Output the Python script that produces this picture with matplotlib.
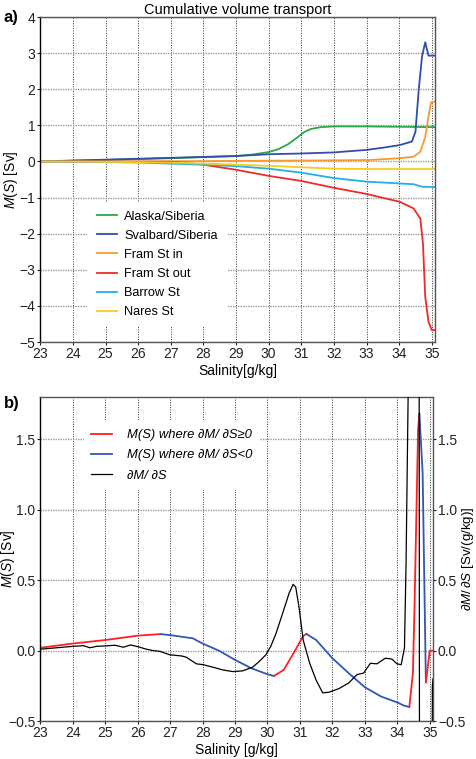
import numpy as np
import matplotlib
matplotlib.use("Agg")
import matplotlib.pyplot as plt

plt.rcParams['font.family'] = ['Liberation Sans', 'DejaVu Sans']
plt.rcParams['mathtext.fontset'] = 'custom'
plt.rcParams['mathtext.rm'] = 'Liberation Sans'
plt.rcParams['mathtext.it'] = 'Liberation Sans:italic'
plt.rcParams['axes.unicode_minus'] = True

# ---------------- Panel a data ----------------
alaska_x = [23, 25, 27, 28, 29, 29.5, 30, 30.3, 30.6, 30.9, 31.1, 31.3, 31.6, 32, 33, 34, 35.1]
alaska_y = [0, 0.04, 0.09, 0.12, 0.15, 0.19, 0.26, 0.34, 0.48, 0.68, 0.82, 0.9, 0.95, 0.97, 0.97, 0.96, 0.95]

svalbard_x = [23, 25, 27, 29, 30, 31, 32, 33, 33.5, 34, 34.39, 34.5, 34.6, 34.7, 34.8, 34.9, 35.1]
svalbard_y = [0, 0.05, 0.1, 0.15, 0.2, 0.22, 0.25, 0.32, 0.38, 0.45, 0.55, 0.82, 1.98, 2.9, 3.3, 2.93, 2.93]

framin_x = [23, 26, 28, 30, 32, 33.1, 34.03, 34.44, 34.65, 34.8, 34.9, 34.98, 35.1]
framin_y = [0, 0, 0.01, 0.02, 0.03, 0.04, 0.09, 0.13, 0.27, 0.68, 1.24, 1.64, 1.66]

framout_x = [23, 27, 27.5, 28, 29, 30, 31, 32, 33, 34.03, 34.44, 34.65, 34.73, 34.8, 34.9, 35.0, 35.1]
framout_y = [0, -0.01, -0.04, -0.09, -0.23, -0.4, -0.54, -0.73, -0.9, -1.12, -1.3, -1.58, -2.27, -3.75, -4.44, -4.67, -4.67]

barrow_x = [23, 25, 26, 27, 28, 29, 30, 31, 32, 33, 34.03, 34.44, 34.7, 35.1]
barrow_y = [0, -0.02, -0.03, -0.06, -0.09, -0.13, -0.2, -0.31, -0.46, -0.56, -0.61, -0.63, -0.7, -0.71]

nares_x = [23, 25, 27, 28, 29, 30, 31, 32, 33, 34, 35.1]
nares_y = [0, -0.01, -0.03, -0.06, -0.09, -0.12, -0.16, -0.2, -0.21, -0.21, -0.21]

series_a = [
    ("Alaska/Siberia", alaska_x, alaska_y, "#2aa84a"),
    ("Svalbard/Siberia", svalbard_x, svalbard_y, "#2f4fa8"),
    ("Fram St in", framin_x, framin_y, "#f79a2e"),
    ("Fram St out", framout_x, framout_y, "#ee2a2a"),
    ("Barrow St", barrow_x, barrow_y, "#1fb0e6"),
    ("Nares St", nares_x, nares_y, "#f7cc1c"),
]

# ---------------- Panel b data ----------------
ms_x = [23.0, 24.0, 25.0, 26.0, 26.7, 27.0, 27.7, 28.0, 28.5, 29.0, 29.5, 30.0, 30.2,
        30.5, 30.8, 31.1, 31.2, 31.5, 32.0, 32.5, 33.0, 33.5, 34.0, 34.2, 34.37,
        34.48, 34.53, 34.64, 34.68, 34.78, 34.88, 35.0, 35.1]
ms_y = [0.02, 0.05, 0.075, 0.106, 0.117, 0.11, 0.087, 0.05, 0.0, -0.066, -0.125, -0.168, -0.18,
        -0.137, -0.02, 0.104, 0.118, 0.075, -0.054, -0.16, -0.26, -0.326, -0.368, -0.39, -0.40,
        -0.16, 0.31, 1.57, 1.68, 1.26, -0.225, 0.0, 0.0]

dm_x = [23.0, 23.5, 24.0, 24.33, 24.53, 24.73, 25.0, 25.3, 25.56, 25.78, 26.0, 26.27, 26.48,
        26.68, 26.99, 27.35, 27.5, 27.81, 28.02, 28.32, 28.62, 28.93, 29.23, 29.54, 29.74,
        29.95, 30.1, 30.26, 30.46, 30.67, 30.79, 30.87, 30.97, 31.1, 31.3, 31.5, 31.7, 31.9,
        32.2, 32.5, 32.76, 32.96, 33.17, 33.37, 33.63, 33.83, 33.99, 34.12, 34.22, 34.27,
        34.32, 34.4, 34.67, 34.69, 35.04, 35.08, 35.1]
dm_y = [0.01, 0.02, 0.03, 0.035, 0.02, 0.03, 0.033, 0.038, 0.024, 0.04, 0.028, 0.01, 0.0,
        -0.005, -0.03, -0.038, -0.047, -0.094, -0.1, -0.118, -0.137, -0.149, -0.144, -0.118, -0.078,
        -0.03, 0.03, 0.12, 0.26, 0.41, 0.47, 0.45, 0.31, 0.075, -0.09, -0.21, -0.30, -0.295,
        -0.27, -0.23, -0.17, -0.16, -0.09, -0.094, -0.054, -0.06, -0.094, -0.10, 0.02, 0.63,
        1.57, 3.0, 3.0, -3.0, -3.0, -0.25, -0.2]

xticks = list(range(23, 36))
b_ticks = [-0.5, 0.0, 0.5, 1.0, 1.5]
b_ticklabels = ['−0.5', '0.0', '0.5', '1.0', '1.5']

fig = plt.figure(figsize=(4.77, 7.59), dpi=100)

grid_v = dict(color='#333333', linestyle=(0, (1, 1.5)), linewidth=0.7)
grid_h = dict(color='#9a9a9a', linestyle=(0, (1, 0.8)), linewidth=1.0)

def style_axes(ax):
    for s in ['top', 'right', 'bottom']:
        ax.spines[s].set_color('#555555')
    ax.spines['left'].set_color('black')
    for s in ax.spines.values():
        s.set_linewidth(1.0)
    ax.tick_params(direction='out', length=2.5, width=0.8, pad=1, labelsize=10, colors='#222222')
    ax.set_axisbelow(True)
    ax.xaxis.grid(True, **grid_v)
    ax.yaxis.grid(True, **grid_h)

# ---------- Panel a ----------
ax1 = fig.add_axes([0.0845, 0.5494, 0.8275, 0.4282])
for name, xs, ys, c in series_a:
    ax1.plot(xs, ys, color=c, lw=1.3, label=name)
ax1.set_xlim(23, 35.1)
ax1.set_ylim(-5, 4)
ax1.set_xticks(xticks)
ax1.set_yticks(range(-5, 5))
style_axes(ax1)
ax1.set_title("Cumulative volume transport", fontsize=10.5, pad=1)
ax1.set_xlabel("Salinity[g/kg]", fontsize=10, labelpad=2)
ax1.set_ylabel(r"$M(S)$ [Sv]", fontsize=10)
ax1.yaxis.set_label_coords(-0.0755, 0.5)
ax1.yaxis.label.set_va('center')
leg1 = ax1.legend(loc='lower left', bbox_to_anchor=(0.12, 0.045), frameon=True,
                  facecolor='white', edgecolor='none', framealpha=1, borderaxespad=0,
                  fontsize=9.2, handlelength=1.6, handletextpad=0.55, labelspacing=0.56,
                  borderpad=0.7)
fig.text(0.008, 0.977, "a)", fontsize=12, fontweight='bold', va='center')

# ---------- Panel b ----------
ax2 = fig.add_axes([0.0845, 0.05, 0.8233, 0.427])
ms_x_arr = np.array(ms_x)
ms_y_arr = np.array(ms_y)
d = np.diff(ms_y_arr)
i = 0
first_red = True
first_blue = True
while i < len(d):
    pos = d[i] >= 0
    j = i
    while j + 1 < len(d) and (d[j + 1] >= 0) == pos:
        j += 1
    col = '#ff2020' if pos else '#3355b5'
    lab = None
    if pos and first_red:
        lab = "M(S) where ∂M/ ∂S≥0"
        first_red = False
    elif (not pos) and first_blue:
        lab = "M(S) where ∂M/ ∂S<0"
        first_blue = False
    ax2.plot(ms_x_arr[i:j + 2], ms_y_arr[i:j + 2], color=col, lw=1.3, label=lab)
    i = j + 1

ax2.set_xlim(23, 35.1)
ax2.set_ylim(-0.5, 1.8)
ax2.set_xticks(xticks)
ax2.set_yticks(b_ticks)
ax2.set_yticklabels(b_ticklabels)
style_axes(ax2)
ax2.set_xlabel("Salinity [g/kg]", fontsize=10, labelpad=2)
ax2.set_ylabel(r"$M(S)$ [Sv]", fontsize=10)
ax2.yaxis.set_label_coords(-0.083, 0.5)
ax2.yaxis.label.set_va('center')

ax3 = ax2.twinx()
ax3.plot(dm_x, dm_y, color='black', lw=0.9, label="∂M/ ∂S")
ax3.set_ylim(-0.5, 1.8)
ax3.set_yticks(b_ticks)
ax3.set_yticklabels(b_ticklabels)
ax3.tick_params(direction='out', length=2.5, width=0.8, pad=1, labelsize=10, colors='#222222')
for s in ax3.spines.values():
    s.set_visible(False)
ax3.set_ylabel(r"$\partial M/\,\partial S$ [Sv/(g/kg)]", fontsize=9.6)
ax3.yaxis.set_label_coords(1.088, 0.5)
ax3.yaxis.label.set_va('center')

h2, l2 = ax2.get_legend_handles_labels()
h3, l3 = ax3.get_legend_handles_labels()
leg2 = ax3.legend(h2 + h3, l2 + l3, loc='upper left', bbox_to_anchor=(0.11, 0.925), frameon=True,
                  facecolor='white', edgecolor='none', framealpha=1, borderaxespad=0,
                  prop={'size': 9.4, 'style': 'italic'}, handlelength=1.6, handletextpad=1.1,
                  labelspacing=0.62, borderpad=0.6)
fig.text(0.008, 0.469, "b)", fontsize=12, fontweight='bold', va='center')

fig.savefig("out.png", dpi=100)
